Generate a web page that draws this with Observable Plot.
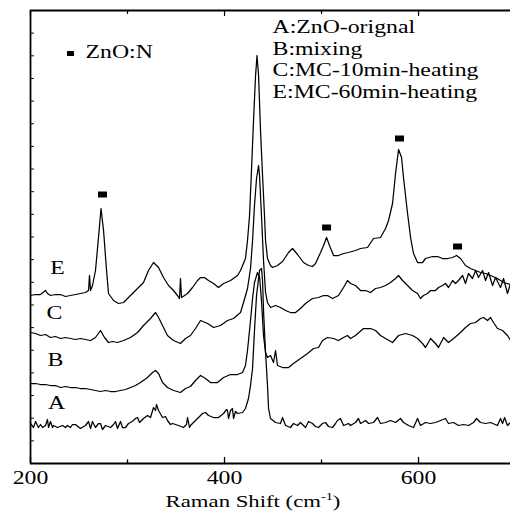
<!DOCTYPE html>
<html><head><meta charset="utf-8">
<script src="https://cdn.jsdelivr.net/npm/d3@7"></script>
<script src="https://cdn.jsdelivr.net/npm/@observablehq/plot@0.6"></script>
<style>body{margin:0;background:#fff}</style>
</head><body><div id="chart"></div>
<script>
// Raman shift (cm^-1), intensity (a.u., stacked)
const curveA = [[200,40],[203.1,36],[205.2,42],[208.2,36],[210.3,39],[212.4,36],[215.5,38],[217.5,44],[218.6,36],[220.6,42],[222.7,36],[223.7,38],[227.8,36],[233,38],[236.1,36],[238.1,38],[241.2,36],[243.3,39],[246.4,39],[251.5,35],[256.7,38],[259.8,42],[261.9,35],[263.9,42],[267,36],[270.1,40],[272.2,40],[274.2,34],[277.3,38],[282.5,36],[285.6,39],[287.6,42],[289.7,35],[292.8,42],[294.8,36],[297.9,36],[301,40],[303.1,41],[306.2,43],[308.2,45],[310.3,46],[312.4,41],[316.5,45],[320.6,48],[323.7,46],[326.8,56],[328.9,53],[329.9,59],[332,53],[336.1,46],[339.2,47],[341.2,43],[344.3,39],[346.4,40],[352.6,38],[357.7,36],[360.8,39],[361.9,46],[363.9,36],[364.9,38],[370.1,43],[375.3,48],[377.3,50],[380.4,51],[383.5,48],[388.7,46],[393.8,46],[399,50],[402.1,54],[403.1,53],[404.1,45],[406.2,53],[408.2,55],[409.3,45],[411.3,52],[413.4,50],[418.6,51],[421.6,55],[424.7,65],[426.8,78],[428.9,95],[430.9,133],[433,168],[436.1,193],[438.1,195],[439.2,183],[440.2,153],[442.3,111],[444.3,78],[445.4,55],[447.4,45],[452.6,41],[457.7,40],[459.8,46],[462.9,38],[468,36],[471.1,40],[475.3,38],[478.3,41],[483.5,36],[486.6,42],[490.7,40],[493.8,37],[496.9,36],[501,40],[504.1,41],[507.2,37],[511.3,36],[514.4,40],[516.5,43],[519.6,45],[522.7,38],[527.8,40],[529.9,38],[535,41],[538.1,45],[540.2,40],[545.4,43],[548.5,40],[553.6,41],[557.7,46],[560.8,40],[566,41],[571.1,43],[576.3,41],[581.4,45],[584.5,41],[589.7,38],[594.8,36],[599,45],[602,38],[607.2,41],[612.4,40],[617.5,41],[622.7,43],[627.8,45],[630.9,40],[636.1,41],[641.2,38],[646.4,39],[651.5,38],[656.7,41],[659.8,45],[663.9,41],[669.1,40],[674.2,41],[681.4,38],[684.5,45],[686.6,40],[688.7,46],[691.7,38],[694.8,41]];

const curveB = [[200,80],[205.2,80],[210.3,79],[215.5,79],[220.6,78],[225.8,78],[230.9,76],[236.1,77],[241.2,76],[246.4,76],[251.5,75],[256.7,75],[261.9,74],[267,73],[272.2,72],[277.3,73],[282.5,72],[287.6,72],[292.8,73],[298,74],[303.1,76],[308.2,78],[313.4,81],[320.6,86],[325.8,91],[328.9,93],[332,90],[336.1,81],[341.2,76],[347.4,73],[354.6,71],[359.8,75],[364.9,77],[370.1,83],[375.3,88],[380.4,85],[385.6,81],[392.8,81],[399,86],[406.2,89],[413.4,89],[418.6,91],[421.6,98],[423.7,113],[426.8,143],[428.9,165],[430.9,181],[434,191],[436.1,187],[438.1,163],[440.2,128],[442.3,111],[444.3,106],[447.4,108],[450.5,101],[452.6,113],[454.6,98],[459.8,96],[466,96],[471.1,100],[478.3,105],[485.6,110],[491.8,115],[496.9,116],[501,123],[506.2,126],[512.4,125],[517.5,123],[522.7,126],[526.8,128],[529.9,125],[535,128],[543.3,135],[550.5,135],[555.7,133],[560.8,128],[566,125],[573.2,121],[579.4,128],[586.6,130],[593.8,128],[599,125],[604.1,120],[607.2,116],[612.4,125],[617.5,120],[620.6,116],[625.8,126],[630.9,121],[636.1,125],[643.3,131],[648.4,136],[653.6,140],[658.8,141],[663.9,145],[667,146],[671.1,143],[674.2,146],[677.3,141],[681.4,135],[686.6,133],[691.7,128],[694.8,123]];

const curveC = [[200,131],[205.2,130],[210.3,128],[215.5,129],[220.6,126],[225.8,127],[230.9,125],[236.1,126],[241.2,125],[246.4,124],[251.5,125],[256.7,124],[261.9,123],[267,126],[272.2,133],[276.3,126],[280.4,121],[284.5,122],[289.7,121],[295.9,123],[303.1,126],[310.3,131],[316.5,138],[323.7,145],[328.9,151],[332,146],[336.1,138],[341.2,128],[347.4,123],[354.6,120],[359.8,125],[364.9,128],[370.1,135],[375.3,143],[382.5,140],[388.7,136],[395.9,138],[403.1,143],[409.3,145],[416.5,151],[419.6,161],[423.7,175],[426.8,195],[428.9,223],[430.9,258],[433,285],[435.1,298],[436.1,288],[438.1,248],[440.2,203],[442.3,171],[444.3,161],[447.4,156],[452.6,158],[457.7,156],[462.9,153],[468,151],[473.2,151],[478.3,155],[483.5,160],[490.7,165],[496.9,166],[502.1,168],[506.2,168],[511.3,165],[517.5,168],[522.7,176],[526.8,183],[529.9,180],[535,178],[540.2,173],[545.4,173],[550.5,171],[555.7,175],[560.8,176],[566,178],[571.1,181],[576.3,185],[579.4,188],[583.5,183],[588.7,178],[593.8,173],[599,170],[602,165],[605.1,168],[609.3,170],[612.4,173],[617.5,173],[620.6,176],[624.7,178],[627.8,180],[630.9,176],[635.1,183],[638.1,180],[641.2,183],[645.4,188],[648.4,180],[651.5,190],[655.6,185],[658.8,193],[661.8,186],[666,193],[669.1,183],[672.2,191],[676.3,178],[679.4,186],[684.5,176],[687.6,185],[691.7,170],[694.8,180]];

const curveE = [[200,168],[205.2,169],[210.3,169],[215.5,173],[217.5,170],[220.6,168],[225.8,169],[230.9,169],[236.1,167],[241.2,168],[246.4,169],[251.5,170],[256.7,171],[259.8,173],[260.8,188],[261.9,173],[263.9,178],[267,193],[270.1,226],[272.7,255],[275.3,233],[278.4,193],[280.4,170],[285.6,163],[290.7,160],[295.9,161],[303.1,168],[310.3,175],[316.5,181],[321.6,193],[326.8,201],[332,196],[337.1,186],[342.3,178],[347.4,173],[351.5,168],[353.6,165],[354.6,185],[355.7,166],[361.9,170],[367,176],[372.2,183],[375.3,186],[379.4,186],[383.5,183],[388.7,180],[393.8,176],[399,180],[406.2,183],[413.4,188],[416.5,193],[421.6,205],[423.7,223],[425.8,248],[427.8,293],[429.9,343],[432,388],[433.5,408],[435.1,388],[437.1,333],[439.2,288],[441.2,248],[442.3,223],[444.3,205],[447.4,198],[449.5,196],[454.6,198],[459.8,202],[466,211],[470.1,215],[475.3,209],[481.4,201],[486.6,198],[490.7,197],[493.8,200],[499,211],[502.1,218],[505.2,226],[508.2,218],[512.4,208],[517.5,208],[522.7,210],[527.8,211],[535,213],[540.2,215],[547.4,216],[553.6,225],[560.8,226],[566,235],[569.1,243],[573.2,260],[576.3,290],[579.4,314],[582.5,306],[584.5,286],[588.7,250],[591.8,226],[594.8,210],[599,201],[604.1,201],[607.2,205],[614.4,207],[619.6,207],[624.7,205],[629.9,205],[635.1,206],[639.2,208],[643.3,205],[648.4,198],[653.6,195],[658.8,193],[663.9,191],[669.1,190],[674.2,188],[681.4,185],[687.6,181],[694.8,179]];

const curveNames = ["A", "B", "C", "E"];
const legendLines = ["A:ZnO-orignal", "B:mixing", "C:MC-10min-heating", "E:MC-60min-heating"];
// ZnO:N peak markers on curve E
const markerShift = [274.2, 505.2, 580.4, 640.2];
const markerLevel = [269, 236, 325, 217];
const xTickLabels = [200, 400, 600];
const xMinorTicks = [300, 500];

const rows = [curveA, curveB, curveC, curveE].flatMap((c, i) =>
  c.map(([x, y]) => ({curve: curveNames[i], x, y})));
const markers = markerShift.map((x, i) => ({x, y: markerLevel[i]}));

const rectSym = {draw(ctx) { ctx.rect(-4.5, -3, 9, 6); }};
const rectSymSmall = {draw(ctx) { ctx.rect(-3.5, -2.5, 7, 5); }};
const tickShape = {draw(ctx, l) { ctx.moveTo(0, 0); ctx.lineTo(0, -l); }};
const yTickVals = d3.range(0, 453, 22.65);
const serif = "'Liberation Serif', 'Times New Roman', serif";

const plot = Plot.plot({
  width: 510, height: 514,
  marginLeft: 30, marginRight: 0, marginTop: 10, marginBottom: 51,
  style: {background: "white", fontFamily: serif, fontSize: "18px", color: "black", overflow: "visible"},
  x: {domain: [200, 694.8], label: null},
  y: {domain: [0, 453], axis: null},
  marks: [
    Plot.line(rows, {x: "x", y: "y", z: "curve", stroke: "black", strokeWidth: 1.25}),
    Plot.dot(markers, {x: "x", y: "y", symbol: rectSym, fill: "black", stroke: null}),
    Plot.dot([0], {x: () => 241.2, y: () => 410, symbol: rectSymSmall, fill: "black", stroke: null}),
    Plot.text(["ZnO:N"], {x: () => 256.7, y: () => 411, text: d => d, textAnchor: "start", fontSize: 18, fill: "black"}),
    Plot.text(legendLines, {x: () => 449.5, y: (d, i) => 436 - i * 21.6, text: d => d, textAnchor: "start", fontSize: 18, fill: "black"}),
    Plot.text(curveNames, {x: [226.8, 225.8, 224.7, 227.8], y: [60, 103, 150, 195], text: d => d, fontSize: 18, fill: "black"}),
    Plot.ruleY([0], {stroke: "black", strokeWidth: 1.8}),
    Plot.ruleY([453], {stroke: "black", strokeWidth: 1.8}),
    Plot.ruleX([200], {stroke: "black", strokeWidth: 1.8}),
    Plot.vector(xTickLabels, {x: d => d, frameAnchor: "bottom", length: 6, anchor: "start", shape: tickShape, stroke: "black", strokeWidth: 1.3}),
    Plot.vector(xMinorTicks, {x: d => d, frameAnchor: "bottom", length: 3.5, anchor: "start", shape: tickShape, stroke: "black", strokeWidth: 1.3}),
    Plot.vector(xTickLabels, {x: d => d, frameAnchor: "top", length: 5, rotate: 180, anchor: "start", shape: tickShape, stroke: "black", strokeWidth: 1.2}),
    Plot.vector(xMinorTicks, {x: d => d, frameAnchor: "top", length: 3, rotate: 180, anchor: "start", shape: tickShape, stroke: "black", strokeWidth: 1.2}),
    Plot.vector(yTickVals, {y: d => d, frameAnchor: "left", length: 3, rotate: 90, anchor: "start", shape: tickShape, stroke: "black", strokeWidth: 1}),
    Plot.axisX({ticks: xTickLabels, tickSize: 0, tickPadding: 8, tickFormat: d => String(d), fontSize: 18, label: null})
  ]
});
document.getElementById("chart").appendChild(plot);

// horizontally widen text as in the reference
const svg = d3.select(plot);
svg.selectAll("text").each(function() {
  const w = this.getComputedTextLength();
  if (w > 0) { this.setAttribute("textLength", (w * 1.32).toFixed(1)); this.setAttribute("lengthAdjust", "spacingAndGlyphs"); }
});
// x-axis title with superscript
const g = svg.append("g").attr("transform", "translate(253,507) scale(1.3,1)");
const t = g.append("text").attr("text-anchor", "middle").attr("font-size", 17.5).attr("fill", "black").attr("font-family", serif);
t.append("tspan").text("Raman Shift (cm");
t.append("tspan").attr("font-size", 11).attr("dy", -7).text("-1");
t.append("tspan").attr("dy", 7).text(")");
</script>
</body></html>
